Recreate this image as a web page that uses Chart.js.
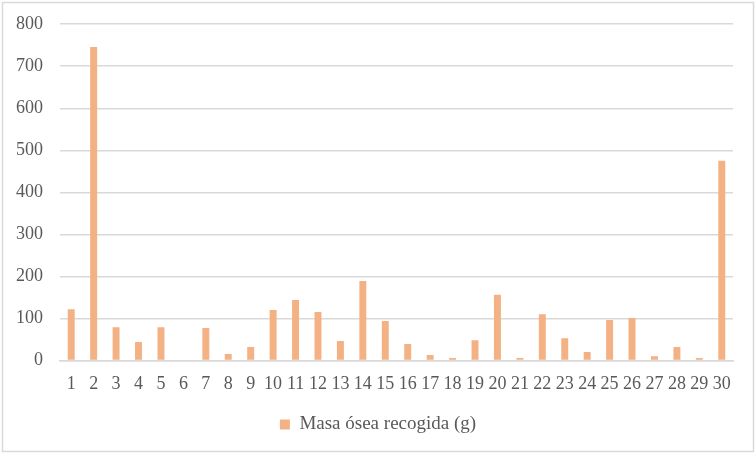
<!DOCTYPE html>
<html>
<head>
<meta charset="utf-8">
<script src="https://cdn.jsdelivr.net/npm/chart.js@4.4.1/dist/chart.umd.min.js"></script>
<style>
  html, body { margin: 0; padding: 0; background: #ffffff; }
  #wrap { position: relative; width: 756px; height: 454px; }
</style>
</head>
<body>
<div id="wrap"><canvas id="chart" width="756" height="454"></canvas></div>
<script>
// Datos
const categories = ['1','2','3','4','5','6','7','8','9','10','11','12','13','14','15',
  '16','17','18','19','20','21','22','23','24','25','26','27','28','29','30'];
const masaOsea = [122, 746, 79, 44, 79, 0, 77, 15, 32, 120, 144, 115, 46, 189, 94,
  39, 13, 6, 48, 156, 6, 110, 53, 20, 96, 101, 10, 32, 6, 475];
const yTicks = [0, 100, 200, 300, 400, 500, 600, 700, 800];

const fontFamily = '"Liberation Serif", "Times New Roman", serif';
const textColor = '#595959';
const gridColor = '#d9d9d9';

// marco exterior del gráfico
const borderPlugin = {
  id: 'outerBorder',
  afterDraw(chart) {
    const ctx = chart.ctx;
    ctx.save();
    ctx.strokeStyle = '#d9d9d9';
    ctx.lineWidth = 1.5;
    ctx.strokeRect(2.5, 2.5, 751, 449);
    ctx.restore();
  }
};

const ctx = document.getElementById('chart').getContext('2d');
new Chart(ctx, {
  type: 'bar',
  data: {
    labels: categories,
    datasets: [{
      label: 'Masa ósea recogida (g)',
      data: masaOsea,
      backgroundColor: '#f4b183',
      barPercentage: 0.31,
      categoryPercentage: 1.0,
      yAxisID: 'y'
    }]
  },
  options: {
    responsive: false,
    animation: false,
    devicePixelRatio: 1,
    layout: { padding: { top: 0, right: 0, bottom: 10, left: 0 } },
    plugins: {
      legend: {
        position: 'bottom',
        labels: {
          boxWidth: 10,
          boxHeight: 10,
          color: textColor,
          font: { family: fontFamily, size: 19 },
          padding: 7
        }
      },
      tooltip: { enabled: false }
    },
    scales: {
      x: {
        grid: { display: false, drawTicks: false },
        border: { color: gridColor, width: 1.5 },
        ticks: {
          color: textColor,
          font: { family: fontFamily, size: 18 },
          padding: 13,
          maxRotation: 0,
          autoSkip: false
        }
      },
      y: {
        min: 0,
        max: 800,
        afterFit(scale) { scale.width = 60; },
        afterBuildTicks(scale) { scale.ticks = yTicks.map(v => ({ value: v })); },
        grid: { color: gridColor, lineWidth: 1.5, drawTicks: false },
        border: { display: false },
        ticks: {
          color: textColor,
          font: { family: fontFamily, size: 18, lineHeight: 0.8 },
          padding: 17
        }
      },
      // eje vacío a la derecha, solo reserva el margen
      yRight: {
        position: 'right',
        min: 0,
        max: 800,
        afterFit(scale) { scale.width = 23; },
        grid: { display: false, drawTicks: false },
        border: { display: false },
        ticks: { display: false }
      }
    }
  },
  plugins: [borderPlugin]
});
</script>
</body>
</html>
